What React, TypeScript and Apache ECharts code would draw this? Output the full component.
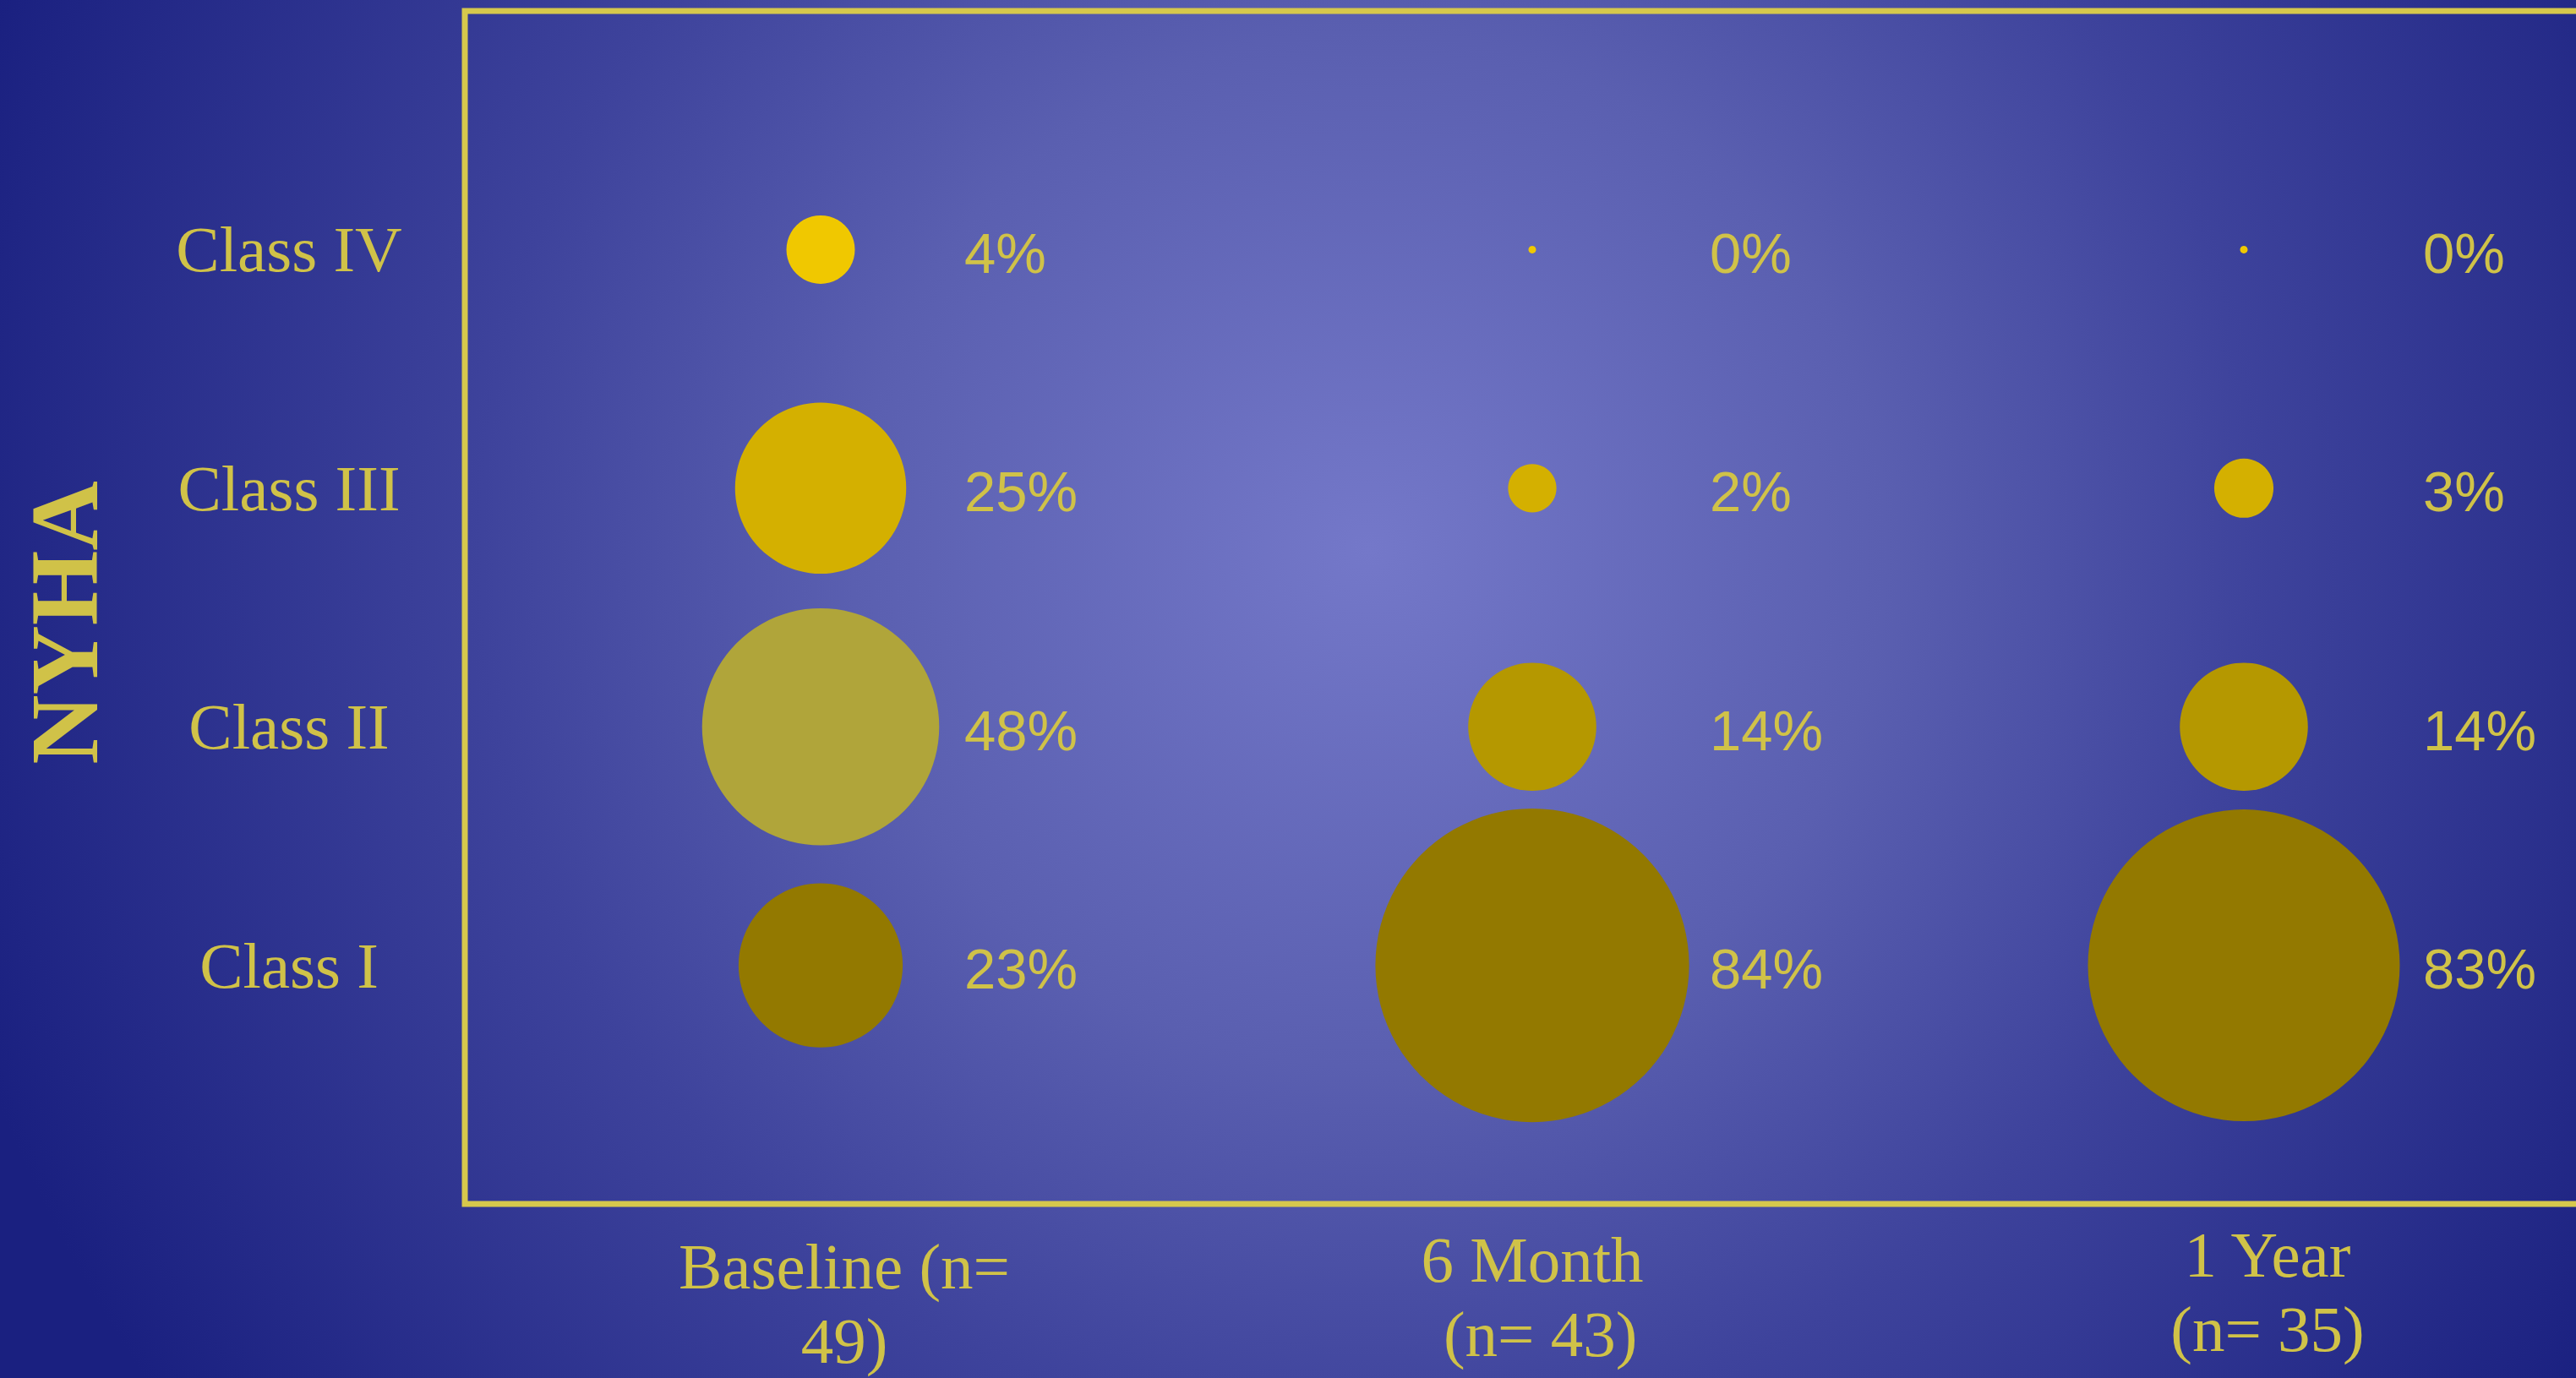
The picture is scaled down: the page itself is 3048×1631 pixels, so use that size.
import React, { useEffect, useRef } from "react";
import * as echarts from "echarts";

const timepoints = ["Baseline (n=\n49)", "6 Month\n (n= 43)", "1 Year\n(n= 35)"];
const classLabels = ["Class I", "Class II", "Class III", "Class IV"];
const baseline = [23, 48, 25, 4];
const sixMonth = [84, 14, 2, 0];
const oneYear = [83, 14, 3, 0];
const yTicks = [0, 1, 2, 3, 4, 5];

const classColors = ["#937900", "#B59800", "#D4B000", "#F0C800"];
const baselineClassIIColor = "#B0A53A";
const textColor = "#D0C248";

export default function App() {
  const ref = useRef<HTMLDivElement>(null);

  useEffect(() => {
    document.body.style.margin = "0";
    if (!ref.current) return;
    const chart = echarts.init(ref.current, null, { renderer: "svg" });

    const seriesValues = [baseline, sixMonth, oneYear];
    const labelOffsets = [170, 210, 212];
    const xLabelPads = [
      [14, 0, 0, 56],
      [6, 0, 0, 0],
      [0, 0, 0, 56],
    ];

    const series = seriesValues.map((vals, t) => ({
      type: "scatter",
      name: timepoints[t],
      symbol: "circle",
      symbolSize: (v: number[]) => Math.max(40.5 * Math.sqrt(v[2]), 9),
      clip: false,
      data: vals.map((v, i) => ({
        value: [t, i + 1, v],
        itemStyle: {
          color: t === 0 && i === 1 ? baselineClassIIColor : classColors[i],
          opacity: 1,
        },
      })),
      label: {
        show: true,
        position: "inside",
        align: "left",
        verticalAlign: "middle",
        offset: [labelOffsets[t], 4],
        formatter: (p: any) => p.value[2] + "%",
        color: textColor,
        fontSize: 67,
        fontFamily: "'Liberation Sans', Arial, sans-serif",
      },
      emphasis: { disabled: true },
    }));

    chart.setOption({
      animation: false,
      backgroundColor: new echarts.graphic.RadialGradient(
        1620,
        650,
        1750,
        [
          { offset: 0, color: "#7478C9" },
          { offset: 0.35, color: "#5A5FB0" },
          { offset: 0.6, color: "#3E439C" },
          { offset: 1, color: "#1A2080" },
        ],
        true
      ),
      grid: {
        left: 550,
        right: -28,
        top: 13,
        bottom: 1631 - 1425,
        show: true,
        borderColor: "#D6C84C",
        borderWidth: 7,
        backgroundColor: "transparent",
        containLabel: false,
        outerBoundsMode: "none",
      },
      xAxis: {
        type: "category",
        data: timepoints.map((t, i) => ({
          value: t,
          textStyle: { padding: xLabelPads[i] },
        })),
        boundaryGap: true,
        axisLine: { show: false },
        axisTick: { show: false },
        splitLine: { show: false },
        axisLabel: {
          color: textColor,
          fontSize: 77,
          lineHeight: 88,
          fontFamily: "'Liberation Serif', 'Times New Roman', serif",
          margin: 16,
          interval: 0,
        },
      },
      yAxis: {
        type: "value",
        min: yTicks[0],
        max: yTicks[yTicks.length - 1],
        interval: 1,
        axisLine: { show: false },
        axisTick: { show: false },
        splitLine: { show: false },
        axisLabel: {
          color: textColor,
          fontSize: 77,
          fontFamily: "'Liberation Serif', 'Times New Roman', serif",
          align: "center",
          margin: 208,
          formatter: (v: number) => classLabels[v - 1] ?? "",
        },
      },
      graphic: [
        {
          type: "text",
          x: 76,
          y: 737,
          rotation: Math.PI / 2,
          style: {
            text: "NYHA",
            fill: textColor,
            font: "bold 114px 'Liberation Serif', 'Times New Roman', serif",
            textAlign: "center",
            textVerticalAlign: "middle",
          },
        },
      ],
      series,
    });

    return () => chart.dispose();
  }, []);

  return (
    <div
      ref={ref}
      style={{ position: "fixed", left: 0, top: 0, width: 3048, height: 1631, overflow: "hidden" }}
    />
  );
}
